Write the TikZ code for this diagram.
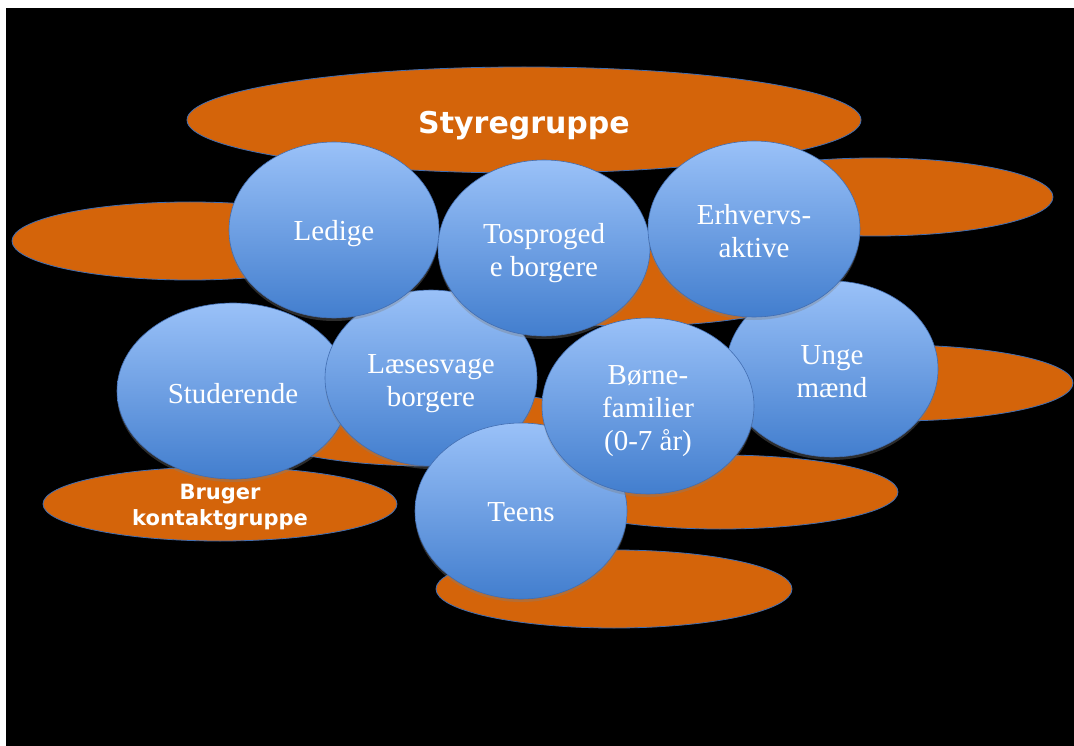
\documentclass[tikz,border=0pt]{standalone}
\usepackage{fontspec}
\setmainfont{Liberation Serif}
\newfontfamily\boldsans{DejaVu Sans}
\usetikzlibrary{shapes.geometric,shadows}
\definecolor{org}{RGB}{212,100,10}
\definecolor{bluetop}{RGB}{154,193,248}
\definecolor{bluebot}{RGB}{66,126,206}
\definecolor{rim}{RGB}{66,110,178}
\newcommand\blocktext[2]{\raisebox{-#1}[\height][\depth]{\begin{tabular}{@{}c@{}}#2\end{tabular}}}
\begin{document}
\begin{tikzpicture}[x=1pt,y=-1pt,
  orangeblob/.style={ellipse,fill=org,draw=rim,line width=0.8pt,inner sep=0pt,
    text=white},
  bluecircle/.style={ellipse,draw=rim,line width=0.6pt,top color=bluetop,
    bottom color=bluebot,inner sep=0pt,minimum width=212pt,minimum height=176pt,
    text=white,font=\fontsize{29}{33}\selectfont,
    drop shadow={shadow xshift=0pt,shadow yshift=-3pt,opacity=0.35}},
  bigtitle/.style={font=\boldsans\bfseries\fontsize{30}{34}\selectfont,
    execute at begin node={\rule{0pt}{33pt}}},
  smalltitle/.style={font=\boldsans\bfseries\fontsize{21}{26}\selectfont},
]
\path[use as bounding box,fill=white] (0,0) rectangle (1074,746);
\fill[black] (6,8) rectangle (1074,746);

% orange ellipses
\node[orangeblob,minimum width=674pt,minimum height=106pt,bigtitle] (sty) at (524,120) {Styregruppe};
\node[orangeblob,minimum width=356pt,minimum height=78pt] (oleft) at (190,241) {};
\node[orangeblob,minimum width=356pt,minimum height=78pt] (oupright) at (875,197) {};
\node[orangeblob,minimum width=360pt,minimum height=76pt] (omid) at (633,288) {};
\node[orangeblob,minimum width=356pt,minimum height=76pt] (olowright) at (895,383) {};
\node[orangeblob,minimum width=356pt,minimum height=76pt] (olowleft) at (430,428) {};
\node[orangeblob,minimum width=356pt,minimum height=74pt] (obarn) at (720,492) {};
\node[orangeblob,minimum width=354pt,minimum height=74pt,smalltitle] (bruger) at (220,504) {\blocktext{3pt}{Bruger\\kontaktgruppe}};
\node[orangeblob,minimum width=356pt,minimum height=78pt] (obottom) at (614,589) {};

% blue circles
\node[bluecircle,minimum width=232pt] (stud) at (233,391) {\blocktext{6pt}{Studerende}};
\node[bluecircle] (laes) at (431,378) {\blocktext{5.5pt}{Læsesvage\\borgere}};
\node[bluecircle] (teens) at (521,511) {\blocktext{4pt}{Teens}};
\node[bluecircle] (unge) at (832,369) {\blocktext{5pt}{Unge\\mænd}};
\node[bluecircle] (boern) at (648,406) {\blocktext{5pt}{Børne-\\familier\\(0-7 år)}};
\node[bluecircle,minimum width=210pt] (ledige) at (334,230) {\blocktext{4pt}{Ledige}};
\node[bluecircle] (tosp) at (544,248) {\blocktext{5pt}{Tosproged\\e borgere}};
\node[bluecircle] (erhv) at (754,229) {\blocktext{5pt}{Erhvervs-\\aktive}};
\end{tikzpicture}
\end{document}
